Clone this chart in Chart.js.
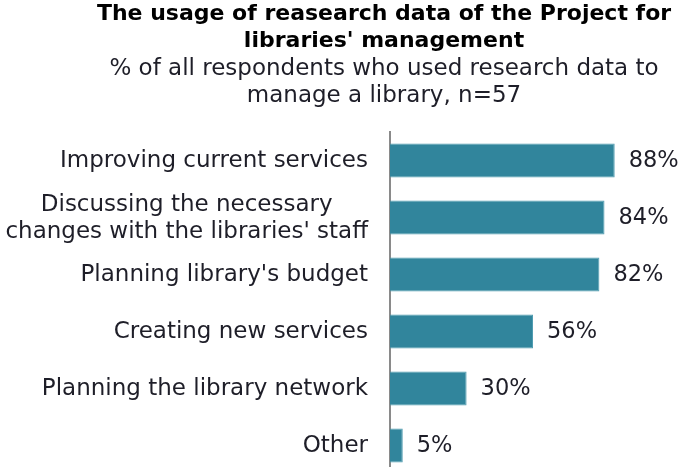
<!DOCTYPE html>
<html>
<head>
<meta charset="utf-8">
<script src="https://cdn.jsdelivr.net/npm/chart.js@4/dist/chart.umd.min.js"></script>
<style>
html,body{margin:0;padding:0;background:#fff;overflow:hidden;}
canvas{display:block;}
</style>
</head>
<body>
<canvas id="c" width="681" height="476"></canvas>
<script>
const titleLines = ["The usage of reasearch data of the Project for", "libraries' management"];
const subtitleLines = ["% of all respondents who used research data to", "manage a library, n=57"];
const categories = [
  ["Improving current services"],
  ["Discussing the necessary", "changes with the libraries' staff"],
  ["Planning library's budget"],
  ["Creating new services"],
  ["Planning the library network"],
  ["Other"]
];
const values = [88, 84, 82, 56, 30, 5];
const valueLabels = ["88%", "84%", "82%", "56%", "30%", "5%"];

const FONT = "'DejaVu Sans', sans-serif";
const TEXT = "#1e1e28";

const labelPlugin = {
  id: 'labelPlugin',
  afterDatasetsDraw(chart) {
    const ctx = chart.ctx;
    const meta = chart.getDatasetMeta(0);
    const yScale = chart.scales.y;
    ctx.save();
    ctx.fillStyle = TEXT;
    ctx.textBaseline = 'middle';
    // value labels
    ctx.font = "22.5px " + FONT;
    ctx.textAlign = 'left';
    meta.data.forEach((bar, i) => {
      ctx.fillText(valueLabels[i], bar.x + 14, bar.y + 1);
    });
    // category labels
    ctx.font = "23px " + FONT;
    const rightX = chart.chartArea.left - 22;
    const lh = 27;
    categories.forEach((lines, i) => {
      const yc = yScale.getPixelForValue(i);
      const maxW = Math.max(...lines.map(l => ctx.measureText(l).width));
      const cx = rightX - maxW / 2;
      ctx.textAlign = 'center';
      lines.forEach((l, k) => {
        const y = yc + 1 + (k - (lines.length - 1) / 2) * lh;
        ctx.fillText(l, cx, y);
      });
    });
    ctx.restore();
  }
};

new Chart(document.getElementById('c'), {
  type: 'bar',
  data: {
    labels: categories.map(c => c.join(' ')),
    datasets: [{
      data: values,
      backgroundColor: '#31859C',
      borderColor: '#4f9cb1',
      borderWidth: 1,
      barPercentage: 0.6,
      categoryPercentage: 1.0
    }]
  },
  options: {
    indexAxis: 'y',
    responsive: false,
    animation: false,
    events: [],
    layout: { padding: { left: 92, right: 5, top: 0, bottom: 2 } },
    scales: {
      x: { display: false, min: 0, max: 112 },
      y: {
        ticks: { display: false },
        grid: { display: false, drawTicks: false },
        border: { display: true, color: '#8a8a8a', width: 2 },
        afterFit(scale) { scale.width = 298; }
      }
    },
    plugins: {
      legend: { display: false },
      tooltip: { enabled: false },
      title: {
        display: true,
        text: titleLines,
        color: '#000',
        font: { family: FONT, size: 22, weight: 'bold', lineHeight: 27/22 },
        padding: { top: 1, bottom: 0.5 }
      },
      subtitle: {
        display: true,
        text: subtitleLines,
        color: TEXT,
        font: { family: FONT, size: 23, weight: 'normal', lineHeight: 27/23 },
        padding: { top: 0, bottom: 22.5 }
      }
    }
  },
  plugins: [labelPlugin]
});
</script>
</body>
</html>
